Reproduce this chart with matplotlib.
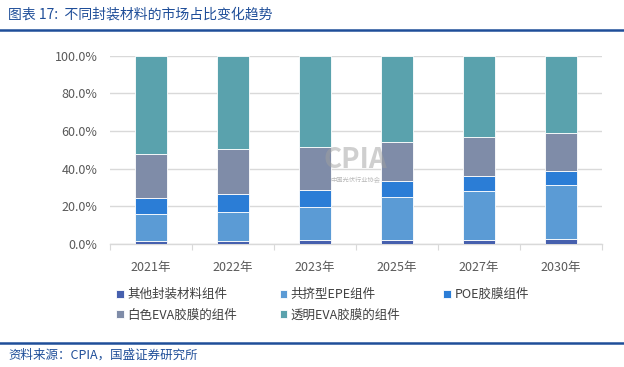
import matplotlib
matplotlib.use("Agg")
import matplotlib.pyplot as plt
from matplotlib.lines import Line2D
import numpy as np

plt.rcParams['font.family'] = ['Noto Sans CJK SC', 'DejaVu Sans']

years = ["2021年", "2022年", "2023年", "2025年", "2027年", "2030年"]
series_names = ["其他封装材料组件", "共挤型EPE组件", "POE胶膜组件", "白色EVA胶膜的组件", "透明EVA胶膜的组件"]
other = [1.4, 1.4, 2.0, 2.0, 2.3, 2.6]
epe = [14.5, 15.7, 17.9, 23.2, 26.1, 28.8]
poe = [8.5, 9.2, 8.7, 8.4, 7.8, 7.6]
white_eva = [23.3, 24.1, 23.0, 20.8, 20.5, 19.8]
clear_eva = [52.3, 49.6, 48.4, 45.6, 43.3, 41.2]
yticks = [0, 20, 40, 60, 80, 100]
ytick_labels = ["0.0%", "20.0%", "40.0%", "60.0%", "80.0%", "100.0%"]

colors = ["#4660AE", "#5B9BD5", "#2B7DD6", "#7F8CA8", "#5AA2AD"]

W, H = 624, 367
fig = plt.figure(figsize=(W / 100, H / 100), dpi=100)
ax = fig.add_axes([110 / W, (H - 244) / H, (602 - 110) / W, (244 - 55.7) / H])

x = np.arange(len(years))
bottom = np.zeros(len(years))
handles = []
for vals, c, name in zip([other, epe, poe, white_eva, clear_eva], colors, series_names):
    v = np.array(vals)
    b = ax.bar(x, v, 0.39, bottom=bottom, color=c, edgecolor="white", linewidth=0.6, label=name, zorder=3)
    handles.append(b)
    bottom += v

ax.set_xlim(-0.5, len(years) - 0.5)
ax.set_ylim(0, 100)
ax.set_yticks(yticks)
ax.set_yticklabels(ytick_labels, fontsize=9, color="#595959")
ax.set_xticks(x)
ax.set_xticklabels(years, fontsize=9, color="#595959")
ax.set_xticks(np.arange(-0.5, len(years)), minor=True)
ax.tick_params(axis="x", which="major", length=0, pad=12)
ax.tick_params(axis="x", which="minor", length=4, color="#d9d9d9", width=0.8)
ax.tick_params(axis="y", length=0, pad=9)
ax.grid(axis="y", color="#d9d9d9", linewidth=1, zorder=0)
for s in ["top", "right", "left"]:
    ax.spines[s].set_visible(False)
ax.spines["bottom"].set_color("#d9d9d9")
ax.spines["bottom"].set_linewidth(1)

# watermark
fig.text(355 / W, 1 - 160 / H, "CPIA", fontsize=20, fontweight="bold", color="#a0a0a0",
         alpha=0.5, ha="center", va="center", zorder=10)
fig.text(355 / W, 1 - 180 / H, "中国光伏行业协会", fontsize=4.5, color="#8a8a8a",
         alpha=0.6, ha="center", va="center", zorder=10)

order = [0, 3, 1, 4, 2]
leg = fig.legend([handles[i] for i in order], [series_names[i] for i in order],
                 ncol=3, loc="upper left", bbox_to_anchor=(116 / W, 1 - 288 / H),
                 frameon=False, fontsize=9, handlelength=0.6, handleheight=0.6,
                 handletextpad=0.3, columnspacing=3.4, labelspacing=0.62,
                 borderaxespad=0, borderpad=0)
for t in leg.get_texts():
    t.set_color("#404040")

# title and lines
fig.text(8 / W, 1 - 15 / H, "图表 17:  不同封装材料的市场占比变化趋势", fontsize=10,
         color="#1F4E99", ha="left", va="center", style="italic")
fig.add_artist(Line2D([0, 1], [1 - 29.7 / H, 1 - 29.7 / H], color="#1F4E99", linewidth=1.8))
fig.add_artist(Line2D([0, 1], [1 - 343 / H, 1 - 343 / H], color="#1F4E99", linewidth=1.8))
fig.text(8 / W, 1 - 355 / H, "资料来源：CPIA，国盛证券研究所", fontsize=9,
         color="#1F4E99", ha="left", va="center", style="italic")

fig.savefig("out.png", dpi=100)
